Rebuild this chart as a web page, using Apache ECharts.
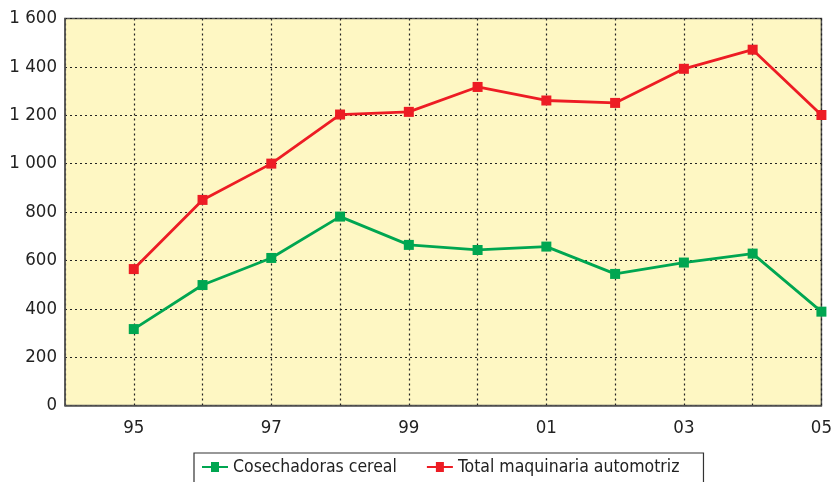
<!DOCTYPE html>
<html>
<head>
<meta charset="utf-8">
<script src="https://cdn.jsdelivr.net/npm/echarts@6/dist/echarts.min.js"></script>
<style>
html,body{margin:0;padding:0;background:#fff;}
#chart{width:835px;height:482px;}
</style>
</head>
<body>
<div id="chart"></div>
<script>
const years = [95, 96, 97, 98, 99, 100, 101, 102, 103, 104, 105];
const seriesNames = ['Cosechadoras cereal', 'Total maquinaria automotriz'];
const cosechadoras = [316, 498, 610, 781, 664, 643, 657, 544, 591, 628, 388];
const totalMaquinaria = [564, 850, 1000, 1203, 1214, 1317, 1261, 1251, 1392, 1471, 1201];
const xLabelYears = [95, 97, 99, 101, 103, 105];

const FONT = '"DejaVu Sans Condensed", "Liberation Sans", sans-serif';
const chart = echarts.init(document.getElementById('chart'), null, {renderer: 'canvas'});

function pairs(vals) { return years.map((y, i) => [y, vals[i]]); }

chart.setOption({
  animation: false,
  backgroundColor: '#ffffff',
  grid: {
    left: 65, right: 11, top: 18.5, bottom: 76.5,
    show: true, backgroundColor: '#FEF7C3', borderColor: '#555555', borderWidth: 1.5
  },
  xAxis: {
    type: 'value', min: 94, max: 105, interval: 1,
    axisLine: {show: true, lineStyle: {color: '#555555', width: 1.5}},
    axisTick: {show: false},
    axisLabel: {
      color: '#222', fontFamily: FONT, fontSize: 18.5, margin: 13,
      showMinLabel: true, showMaxLabel: true,
      formatter: v => xLabelYears.includes(v) ? String(v % 100).padStart(2, '0') : ''
    },
    splitLine: {show: true, lineStyle: {color: '#222', type: [2, 3], width: 1.2}}
  },
  yAxis: {
    type: 'value', min: 0, max: 1600, interval: 200,
    axisLine: {show: true, lineStyle: {color: '#555555', width: 1.5}},
    axisTick: {show: false},
    axisLabel: {
      color: '#222', fontFamily: FONT, fontSize: 18.5, margin: 8,
      formatter: v => v >= 1000 ? Math.floor(v / 1000) + ' ' + String(v % 1000).padStart(3, '0') : String(v)
    },
    splitLine: {show: true, lineStyle: {color: '#222', type: [2, 3], width: 1.2}}
  },
  legend: {
    left: 194, top: 453,
    padding: [5, 24, 12, 8],
    borderColor: '#333', borderWidth: 1.2, backgroundColor: '#fff',
    itemWidth: 26, itemHeight: 10, itemGap: 30,
    textStyle: {fontFamily: FONT, fontSize: 17.5, color: '#222'},
    data: seriesNames.map(n => ({name: n, icon: 'path://M0,4 L26,4 L26,6 L0,6 Z M9,0 L17,0 L17,10 L9,10 Z'}))
  },
  series: [
    {
      name: seriesNames[0], type: 'line', data: pairs(cosechadoras),
      symbol: 'rect', symbolSize: 10, color: '#00A651',
      lineStyle: {width: 2.8, color: '#00A651'}, itemStyle: {color: '#00A651'}
    },
    {
      name: seriesNames[1], type: 'line', data: pairs(totalMaquinaria),
      symbol: 'rect', symbolSize: 10, color: '#ED1C24',
      lineStyle: {width: 2.8, color: '#ED1C24'}, itemStyle: {color: '#ED1C24'}
    }
  ]
});
</script>
</body>
</html>
